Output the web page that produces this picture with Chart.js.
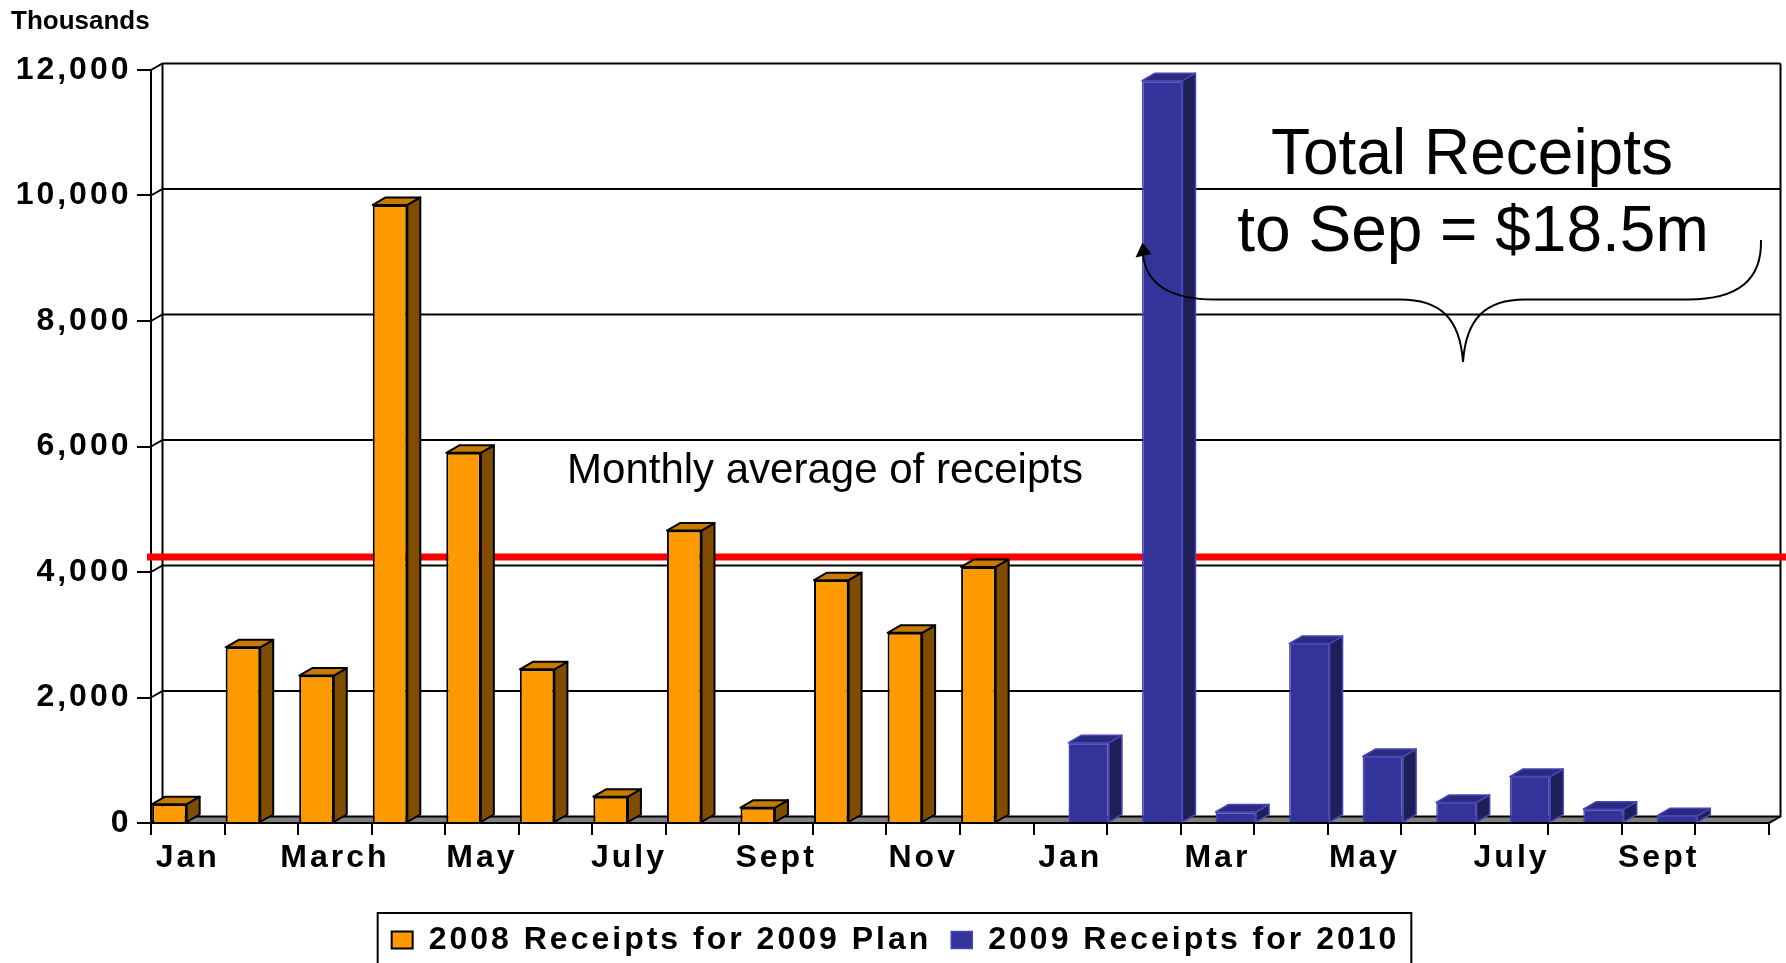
<!DOCTYPE html>
<html>
<head>
<meta charset="utf-8">
<title>Receipts 2008 / 2009</title>
<script src="https://cdn.jsdelivr.net/npm/chart.js@4.4.1/dist/chart.umd.min.js"></script>
<style>
  html, body { margin: 0; padding: 0; background: #fff; }
  #wrap { width: 1786px; height: 963px; }
</style>
</head>
<body>
<div id="wrap"><canvas id="chart" width="1786" height="963"></canvas></div>
<script>
// Monthly receipts in thousands of dollars. 2008 runs Jan..Dec, 2009 runs Jan..Sept
// (Oct 2009 slot is left empty).
const CATEGORIES = ['Jan', 'Feb', 'March', 'Apr', 'May', 'Jun', 'July', 'Aug', 'Sept', 'Oct', 'Nov', 'Dec',
                    'Jan', 'Feb', 'Mar', 'Apr', 'May', 'Jun', 'July', 'Aug', 'Sept', 'Oct'];
const TICK_LABELS = ['Jan', '', 'March', '', 'May', '', 'July', '', 'Sept', '', 'Nov', '',
                     'Jan', '', 'Mar', '', 'May', '', 'July', '', 'Sept', ''];
const RECEIPTS_2008 = [300, 2800, 2350, 9850, 5900, 2450, 420, 4660, 245, 3870, 3030, 4080];
const RECEIPTS_2009 = [1280, 11830, 175, 2860, 1060, 328, 740, 220, 115];
const Y_TICKS = [0, 2000, 4000, 6000, 8000, 10000, 12000];
const AVERAGE_RECEIPTS = 4240;

const FONT = "'Liberation Sans', Arial, Helvetica, sans-serif";
const LABEL_SPACING = '3px';
const LABEL_FONT = { size: 32, weight: 'bold' };

// Oblique offsets for the back wall and for the bar tops/sides.
const WALL_DX = 11.5, WALL_DY = -6.5;
const BAR_DX = 13, BAR_DY = -7.5;
// The legend sits centred under the whole slide rather than the plot.
const LEGEND_SHIFT = 8;

// Pad each series out to the full category list.
const series2008 = CATEGORIES.map((_, i) => i < RECEIPTS_2008.length ? RECEIPTS_2008[i] : null);
const series2009 = CATEGORIES.map((_, i) => {
  const k = i - RECEIPTS_2008.length;
  return k >= 0 && k < RECEIPTS_2009.length ? RECEIPTS_2009[k] : null;
});

const FACE_COLORS = [
  { top: '#c97a00', side: '#7f4c00' },
  { top: '#2a2a80', side: '#1f1f58' }
];

const box3d = {
  id: 'box3d',
  beforeLayout(chart) { chart.ctx.letterSpacing = LABEL_SPACING; },
  afterLayout(chart) {
    chart.legend.left += LEGEND_SHIFT;
    chart.legend.right += LEGEND_SHIFT;
  },
  beforeDraw(chart) { chart.ctx.letterSpacing = LABEL_SPACING; },
  beforeDatasetsDraw(chart) {
    const { ctx, chartArea: a, scales: { y } } = chart;
    ctx.save();
    // grey floor
    ctx.fillStyle = '#808080';
    ctx.beginPath();
    ctx.moveTo(a.left, a.bottom);
    ctx.lineTo(a.right, a.bottom);
    ctx.lineTo(a.right + WALL_DX, a.bottom + WALL_DY);
    ctx.lineTo(a.left + WALL_DX, a.bottom + WALL_DY);
    ctx.closePath();
    ctx.fill();

    ctx.strokeStyle = '#000';
    ctx.lineWidth = 2;
    // back wall gridlines, joined to the front axis by short diagonals
    Y_TICKS.forEach(v => {
      const py = y.getPixelForValue(v);
      ctx.beginPath();
      ctx.moveTo(a.left, py);
      ctx.lineTo(a.left + WALL_DX, py + WALL_DY);
      ctx.lineTo(a.right + WALL_DX, py + WALL_DY);
      ctx.stroke();
    });
    // wall edges and floor outline
    const top = a.top + WALL_DY, back = a.bottom + WALL_DY;
    ctx.beginPath();
    ctx.moveTo(a.left + WALL_DX, top);
    ctx.lineTo(a.left + WALL_DX, back);
    ctx.moveTo(a.right + WALL_DX, top);
    ctx.lineTo(a.right + WALL_DX, back);
    ctx.lineTo(a.right, a.bottom);
    ctx.lineTo(a.left, a.bottom);
    ctx.stroke();

    // monthly average
    const ay = y.getPixelForValue(AVERAGE_RECEIPTS);
    ctx.strokeStyle = '#ff0000';
    ctx.lineWidth = 7;
    ctx.beginPath();
    ctx.moveTo(a.left - 4, ay);
    ctx.lineTo(chart.width, ay);
    ctx.stroke();
    ctx.restore();
  },
  afterDatasetsDraw(chart) {
    const { ctx } = chart;
    chart.data.datasets.forEach((ds, i) => {
      const faces = FACE_COLORS[i];
      chart.getDatasetMeta(i).data.forEach((bar, j) => {
        if (ds.data[j] == null) return;
        const { x, y, base, width } = bar.getProps(['x', 'y', 'base', 'width'], true);
        const l = x - width / 2, r = x + width / 2;
        ctx.save();
        ctx.lineWidth = ds.borderWidth;
        ctx.strokeStyle = ds.borderColor;
        ctx.lineJoin = 'round';
        ctx.fillStyle = faces.side;
        ctx.beginPath();
        ctx.moveTo(r, y);
        ctx.lineTo(r + BAR_DX, y + BAR_DY);
        ctx.lineTo(r + BAR_DX, base + BAR_DY);
        ctx.lineTo(r, base);
        ctx.closePath();
        ctx.fill();
        ctx.stroke();
        ctx.fillStyle = faces.top;
        ctx.beginPath();
        ctx.moveTo(l, y);
        ctx.lineTo(l + BAR_DX, y + BAR_DY);
        ctx.lineTo(r + BAR_DX, y + BAR_DY);
        ctx.lineTo(r, y);
        ctx.closePath();
        ctx.fill();
        ctx.stroke();
        ctx.restore();
      });
    });
  },
  afterDraw(chart) {
    const { ctx } = chart;
    ctx.save();
    ctx.letterSpacing = '0px';
    ctx.fillStyle = '#000';
    ctx.textBaseline = 'alphabetic';

    ctx.font = 'bold 26px ' + FONT;
    ctx.textAlign = 'left';
    ctx.fillText('Thousands', 11, 28.5);

    ctx.textAlign = 'center';
    ctx.font = '42px ' + FONT;
    ctx.fillText('Monthly average of receipts', 825, 483);

    ctx.font = '64px ' + FONT;
    ctx.fillText('Total Receipts', 1472, 174);
    ctx.fillText('to Sep = $18.5m', 1473, 250.5);

    // brace under the total, ending in an arrow at the tall bar
    ctx.strokeStyle = '#000';
    ctx.lineWidth = 2;
    ctx.beginPath();
    ctx.moveTo(1143, 255);
    ctx.bezierCurveTo(1146, 280, 1165, 299.5, 1215, 299.5);
    ctx.lineTo(1400, 299.5);
    ctx.bezierCurveTo(1440, 299.5, 1460, 318, 1463, 362);
    ctx.bezierCurveTo(1466, 318, 1486, 299.5, 1525, 299.5);
    ctx.lineTo(1688, 299.5);
    ctx.bezierCurveTo(1738, 299.5, 1762, 280, 1761, 240);
    ctx.stroke();
    ctx.beginPath();
    ctx.moveTo(1142.5, 242.5);
    ctx.lineTo(1135.5, 257.5);
    ctx.lineTo(1151.5, 254);
    ctx.closePath();
    ctx.fill();

    // frame round the legend
    const hb = chart.legend.legendHitBoxes;
    if (hb && hb.length) {
      const last = hb[hb.length - 1];
      const x0 = hb[0].left - 14, x1 = last.left + last.width + 12;
      ctx.strokeRect(x0, hb[0].top - 11, x1 - x0, 80);
    }
    ctx.restore();
  }
};

Chart.defaults.font.family = FONT;
Chart.defaults.color = '#000';

new Chart(document.getElementById('chart'), {
  type: 'bar',
  data: {
    labels: CATEGORIES,
    datasets: [
      {
        label: '2008 Receipts for 2009 Plan',
        data: series2008,
        backgroundColor: '#ff9900',
        borderColor: '#000',
        borderWidth: 2,
        barPercentage: 0.94,
        categoryPercentage: 1
      },
      {
        label: '2009 Receipts for 2010',
        data: series2009,
        backgroundColor: '#333399',
        borderColor: '#4646b8',
        borderWidth: 1.5,
        barPercentage: 1.1,
        categoryPercentage: 1
      }
    ]
  },
  options: {
    responsive: false,
    devicePixelRatio: 1,
    animation: false,
    events: [],
    layout: { padding: { left: 6, top: 70, right: 17, bottom: -3 } },
    plugins: {
      tooltip: { enabled: false },
      legend: {
        position: 'bottom',
        labels: {
          boxWidth: 21,
          boxHeight: 17,
          padding: 20,
          color: '#000',
          font: LABEL_FONT
        }
      }
    },
    scales: {
      x: {
        afterFit(scale) { scale.height = 81; },
        grid: { offset: true, drawOnChartArea: false, tickLength: 12, color: '#000', lineWidth: 2 },
        border: { display: true, color: '#000', width: 2 },
        ticks: {
          autoSkip: false,
          maxRotation: 0,
          minRotation: 0,
          padding: 4,
          color: '#000',
          font: LABEL_FONT,
          callback: (v, i) => TICK_LABELS[i]
        }
      },
      y: {
        min: 0,
        max: 12000,
        afterFit(scale) { scale.width = 145; },
        grid: { drawOnChartArea: false, tickLength: 14, color: '#000', lineWidth: 2 },
        border: { display: true, color: '#000', width: 2 },
        ticks: {
          stepSize: 2000,
          padding: 5.5,
          color: '#000',
          font: LABEL_FONT
        }
      }
    }
  },
  plugins: [box3d]
});
</script>
</body>
</html>
